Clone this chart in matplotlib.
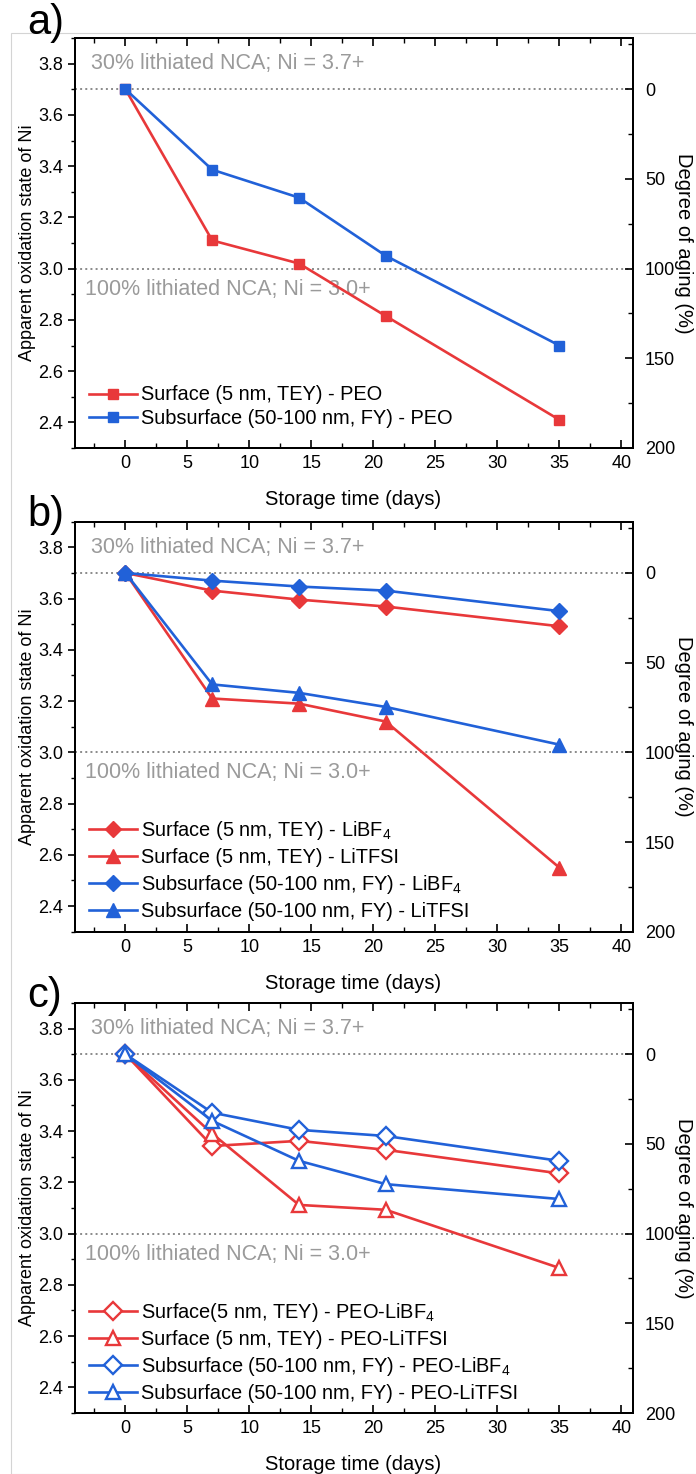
import matplotlib
matplotlib.use("Agg")
import matplotlib.pyplot as plt
from matplotlib.patches import Rectangle
from matplotlib.ticker import MultipleLocator

plt.rcParams['font.family'] = ['Liberation Sans', 'DejaVu Sans']
plt.rcParams['mathtext.fontset'] = 'custom'
plt.rcParams['mathtext.rm'] = 'Liberation Sans'
plt.rcParams['mathtext.default'] = 'regular'

RED = '#e8383a'
BLUE = '#2161d8'

days = [0, 7, 14, 21, 35]

# panel a
a_surf_peo = [3.70, 3.11, 3.02, 2.815, 2.41]
a_sub_peo = [3.70, 3.386, 3.277, 3.05, 2.70]

# panel b
b_surf_libf4 = [3.70, 3.631, 3.596, 3.569, 3.492]
b_surf_litfsi = [3.70, 3.21, 3.19, 3.12, 2.55]
b_sub_libf4 = [3.70, 3.670, 3.647, 3.631, 3.551]
b_sub_litfsi = [3.70, 3.265, 3.232, 3.177, 3.03]

# panel c
c_surf_libf4 = [3.70, 3.342, 3.362, 3.327, 3.235]
c_surf_litfsi = [3.70, 3.39, 3.112, 3.093, 2.866]
c_sub_libf4 = [3.70, 3.472, 3.405, 3.381, 3.284]
c_sub_litfsi = [3.70, 3.44, 3.284, 3.193, 3.135]

W, H = 696, 1474
fig = plt.figure(figsize=(W / 100, H / 100), dpi=100)
fig.patches.append(Rectangle((11 / W, 0), 1, 1 - 33 / H, transform=fig.transFigure,
                             fill=False, edgecolor='#d4d4d4', lw=0.8))

ax_left = 74.6 / W
ax_w = (632.5 - 74.6) / W
ax_h = 410 / H
bottoms = [1 - 448 / H, 1 - 931.7 / H, 1 - 1413 / H]
letters = ['a)', 'b)', 'c)']
letter_y = [3, 495, 976]
TICK_FS = 13
LAB_FS = 14.5


def setup_axes(ax):
    ax.set_xlim(-4.1, 40.9)
    ax.set_ylim(2.3, 3.9)
    ax.xaxis.set_major_locator(MultipleLocator(5))
    ax.xaxis.set_minor_locator(MultipleLocator(2.5))
    ax.yaxis.set_minor_locator(MultipleLocator(0.1))
    ax.set_yticks([2.4, 2.6, 2.8, 3.0, 3.2, 3.4, 3.6, 3.8])
    ax.set_yticklabels(['2.4', '2.6', '2.8', '3.0', '3.2', '3.4', '3.6', '3.8'])
    ax.tick_params(axis='x', which='both', direction='in', top=True, labelsize=TICK_FS)
    ax.tick_params(axis='x', which='major', length=6, width=1.2, pad=5)
    ax.tick_params(axis='x', which='minor', length=3.5, width=1.0)
    ax.tick_params(axis='y', which='both', direction='out', labelsize=TICK_FS)
    ax.tick_params(axis='y', which='major', length=5, width=1.2, pad=3)
    ax.tick_params(axis='y', which='minor', length=3, width=1.0)
    for s in ax.spines.values():
        s.set_linewidth(1.4)
    ax.axhline(3.7, color='#8a8a8a', ls=':', lw=1.4, zorder=1)
    ax.axhline(3.0, color='#8a8a8a', ls=':', lw=1.4, zorder=1)
    ax.text(-2.78, 3.8, '30% lithiated NCA; Ni = 3.7+', color='#9a9a9a',
            fontsize=15.5, va='center', ha='left')
    ax.text(-3.26, 2.92, '100% lithiated NCA; Ni = 3.0+', color='#9a9a9a',
            fontsize=15.5, va='center', ha='left')
    ax.set_xlabel('Storage time (days)', fontsize=LAB_FS, labelpad=13)
    ax.set_ylabel('Apparent oxidation state of Ni', fontsize=13, labelpad=2)
    ax2 = ax.twinx()
    ax2.set_ylim((3.7 - 2.3) / 0.007, (3.7 - 3.9) / 0.007)
    ax2.yaxis.set_minor_locator(MultipleLocator(25))
    ax2.set_yticks([0, 50, 100, 150, 200])
    ax2.tick_params(axis='y', which='both', direction='in', labelsize=TICK_FS)
    ax2.tick_params(axis='y', which='major', length=6, width=1.2, pad=9)
    ax2.tick_params(axis='y', which='minor', length=3.5, width=1.0)
    ax2.set_ylabel('Degree of aging (%)', rotation=270, fontsize=LAB_FS, labelpad=13)
    for s in ax2.spines.values():
        s.set_linewidth(1.4)


axes = []
for i in range(3):
    ax = fig.add_axes([ax_left, bottoms[i], ax_w, ax_h])
    setup_axes(ax)
    fig.text(27 / W, 1 - letter_y[i] / H, letters[i], fontsize=30, va='top', ha='left')
    axes.append(ax)

lw = 1.9
LEG_FS = 14.4

# panel a
ax = axes[0]
ax.plot(days, a_surf_peo, color=RED, marker='s', ms=7.5, lw=lw, label='Surface (5 nm, TEY) - PEO', zorder=3)
ax.plot(days, a_sub_peo, color=BLUE, marker='s', ms=7.5, lw=lw, label='Subsurface (50-100 nm, FY) - PEO', zorder=3)
ax.legend(loc='lower left', bbox_to_anchor=(0.026, 0.05), frameon=False, fontsize=LEG_FS,
          handlelength=2.4, handletextpad=0.2, labelspacing=0.2, borderpad=0, borderaxespad=0)

# panel b
ax = axes[1]
ax.plot(days, b_surf_libf4, color=RED, marker='D', ms=8, lw=lw, label='Surface (5 nm, TEY) - LiBF$_4$', zorder=3)
ax.plot(days, b_surf_litfsi, color=RED, marker='^', ms=9.5, lw=lw, label='Surface (5 nm, TEY) - LiTFSI', zorder=3)
ax.plot(days, b_sub_libf4, color=BLUE, marker='D', ms=8, lw=lw, label='Subsurface (50-100 nm, FY) - LiBF$_4$', zorder=3)
ax.plot(days, b_sub_litfsi, color=BLUE, marker='^', ms=9.5, lw=lw, label='Subsurface (50-100 nm, FY) - LiTFSI', zorder=3)
ax.legend(loc='lower left', bbox_to_anchor=(0.026, 0.025), frameon=False, fontsize=LEG_FS,
          handlelength=2.4, handletextpad=0.2, labelspacing=0.3, borderpad=0, borderaxespad=0)

# panel c
ax = axes[2]
kw = dict(lw=lw, mfc='white', mew=1.7, zorder=3)
ax.plot(days, c_surf_libf4, color=RED, marker='D', ms=9, label='Surface(5 nm, TEY) - PEO-LiBF$_4$', **kw)
ax.plot(days, c_surf_litfsi, color=RED, marker='^', ms=10, label='Surface (5 nm, TEY) - PEO-LiTFSI', **kw)
ax.plot(days, c_sub_libf4, color=BLUE, marker='D', ms=9, label='Subsurface (50-100 nm, FY) - PEO-LiBF$_4$', **kw)
ax.plot(days, c_sub_litfsi, color=BLUE, marker='^', ms=10, label='Subsurface (50-100 nm, FY) - PEO-LiTFSI', **kw)
ax.legend(loc='lower left', bbox_to_anchor=(0.026, 0.025), frameon=False, fontsize=LEG_FS,
          handlelength=2.4, handletextpad=0.2, labelspacing=0.3, borderpad=0, borderaxespad=0)

fig.savefig('out.png', dpi=100)
